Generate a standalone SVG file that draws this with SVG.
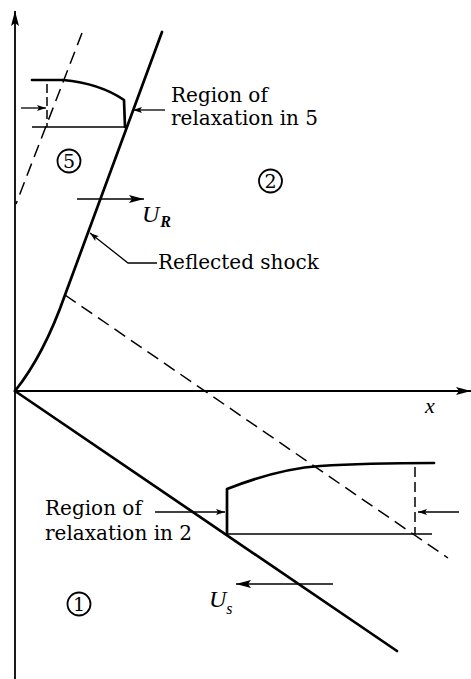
<svg xmlns="http://www.w3.org/2000/svg" width="471" height="679" viewBox="0 0 471 679">
<style>
.thick{fill:none;stroke:#000;stroke-width:2.7;stroke-linecap:round;stroke-linejoin:round}
.thin{fill:none;stroke:#000;stroke-width:1.3}
.axis{fill:none;stroke:#000;stroke-width:1.8}
.dash{fill:none;stroke:#000;stroke-width:1.5;stroke-dasharray:13 7}
.lbl{font-family:"DejaVu Serif","Liberation Serif",serif;font-size:20px;fill:#000}
.it{font-family:"Liberation Serif","DejaVu Serif",serif;font-style:italic;fill:#000}
.circ{fill:none;stroke:#000;stroke-width:1.8}
.num{font-family:"DejaVu Serif","Liberation Serif",serif;font-size:19px;fill:#000;text-anchor:middle}
</style>
<defs>
<marker id="big" markerWidth="16" markerHeight="10" refX="15" refY="5" orient="auto" markerUnits="userSpaceOnUse">
<path d="M0,1 L15,5 L0,9 L3,5 Z" fill="#000"/>
</marker>
<marker id="small" markerWidth="10" markerHeight="8" refX="9" refY="4" orient="auto" markerUnits="userSpaceOnUse">
<path d="M0,1 L9,4 L0,7 L2,4 Z" fill="#000"/>
</marker>
</defs>
<g id="axes">
<line class="axis" x1="15" y1="679" x2="15" y2="11" marker-end="url(#big)"/>
<line class="axis" x1="15" y1="391" x2="471" y2="391" marker-end="url(#big)"/>
<text class="it" x="425" y="413" font-size="22">x</text>
</g>
<g id="reflected-shock">
<path class="thick" d="M15,391 C35,366 52,332 65,295 L162,32"/>
</g>
<g id="incident-shock">
<line class="thick" x1="15" y1="391" x2="397" y2="651"/>
</g>
<g id="dashed-lines">
<line class="dash" x1="82" y1="33" x2="16" y2="204"/>
<line class="dash" x1="65" y1="295" x2="448" y2="558"/>
</g>
<g id="profile-5">
<path class="thick" d="M32,80 L63,80 C85,82 108,89 124,100 L125,127"/>
<line class="thin" x1="32" y1="127" x2="125" y2="127"/>
<line class="dash" x1="47" y1="84" x2="47" y2="127" style="stroke-dasharray:9 4"/>
</g>
<g id="profile-2">
<path class="thick" d="M227,534 L227,489 C255,478 290,468 320,466 C350,464 400,463 434,463"/>
<line class="thin" x1="227" y1="534" x2="432" y2="534"/>
<line class="dash" x1="415" y1="467" x2="415" y2="534" style="stroke-dasharray:10 5"/>
</g>
<g id="connectors">
<line class="thin" x1="21" y1="108" x2="46" y2="108" marker-end="url(#small)"/>
<line class="thin" x1="165" y1="110" x2="133" y2="110" marker-end="url(#small)"/>
<polyline class="thin" points="157,263 128,263 90,233" marker-end="url(#small)"/>
<line class="thin" x1="77" y1="199" x2="144" y2="199" style="stroke-width:1.6" marker-end="url(#big)"/>
<line class="thin" x1="155" y1="512" x2="225" y2="512" marker-end="url(#small)"/>
<line class="thin" x1="459" y1="512" x2="418" y2="512" marker-end="url(#small)"/>
<line class="thin" x1="333" y1="584" x2="236" y2="584" style="stroke-width:1.6" marker-end="url(#big)"/>
</g>
<g id="region-5">
<circle class="circ" cx="69" cy="161" r="11.5"/>
<text class="num" x="69" y="168">5</text>
</g>
<g id="region-2">
<circle class="circ" cx="270.5" cy="181" r="11.5"/>
<text class="num" x="270.5" y="188">2</text>
</g>
<g id="region-1">
<circle class="circ" cx="79" cy="604" r="11.5"/>
<text class="num" x="79" y="611">1</text>
</g>
<g id="label-relax5">
<text class="lbl" x="171" y="102">Region of</text>
<text class="lbl" x="171" y="125">relaxation in 5</text>
</g>
<g id="label-reflected">
<text class="lbl" x="158" y="269">Reflected shock</text>
</g>
<g id="label-relax2">
<text class="lbl" x="45" y="515">Region of</text>
<text class="lbl" x="45" y="540">relaxation in 2</text>
</g>
<g id="label-UR">
<text class="it" x="142" y="222" font-size="24">U<tspan font-size="16" dx="1" dy="5" font-weight="bold">R</tspan></text>
</g>
<g id="label-Us">
<text class="it" x="209" y="607" font-size="24">U<tspan font-size="16" dx="0" dy="7">s</tspan></text>
</g>
</svg>
